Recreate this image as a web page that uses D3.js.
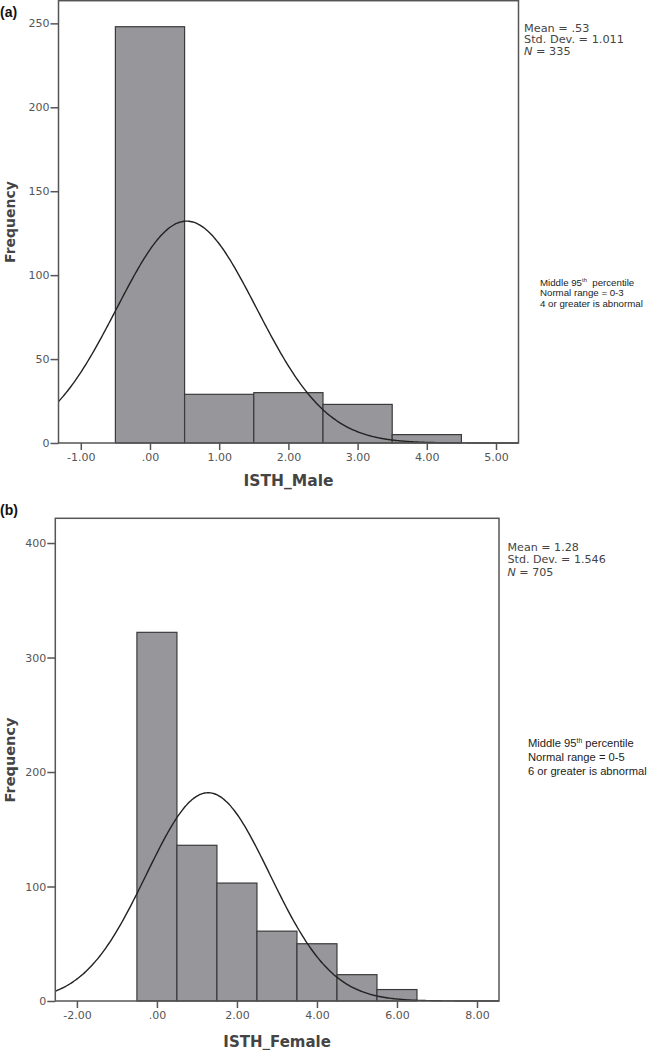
<!DOCTYPE html>
<html>
<head>
<meta charset="utf-8">
<script src="https://cdn.jsdelivr.net/npm/d3@7"></script>
<style>
  html, body { margin: 0; padding: 0; background: #fff; }
  svg { display: block; }
</style>
</head>
<body>
<svg id="chart" width="648" height="1050"></svg>
<script>
// ---------- data ----------
const maleBinCenters = [0, 1, 2, 3, 4];
const maleCounts = [248, 29, 30, 23, 5];
const maleStats = { mean: 0.53, sd: 1.011, n: 335 };
const maleXTicks = [-1, 0, 1, 2, 3, 4, 5];
const maleYTicks = [0, 50, 100, 150, 200, 250];
const maleNote = ["Middle 95", "Normal range = 0-3", "4 or greater is abnormal"];

const femaleBinCenters = [0, 1, 2, 3, 4, 5, 6];
const femaleCounts = [322, 136, 103, 61, 50, 23, 10];
const femaleStats = { mean: 1.28, sd: 1.546, n: 705 };
const femaleXTicks = [-2, 0, 2, 4, 6, 8];
const femaleYTicks = [0, 100, 200, 300, 400];
const femaleNote = ["Middle 95", "Normal range = 0-5", "6 or greater is abnormal"];

// ---------- drawing ----------
const svg = d3.select("#chart");
const fmtX = d => d === 0 ? ".00" : d.toFixed(2);

function panel(cfg) {
  const g = svg.append("g");
  const x = d3.scaleLinear().domain(cfg.xDomain).range([cfg.left, cfg.right]);
  const y = d3.scaleLinear().domain(cfg.yDomain).range([cfg.bottom, cfg.top]);

  // bars
  g.selectAll("rect.bar").data(cfg.centers.map((c, i) => ({ c, v: cfg.counts[i] })))
    .enter().append("rect")
    .attr("class", "bar")
    .attr("x", d => x(d.c - 0.5))
    .attr("width", d => x(d.c + 0.5) - x(d.c - 0.5))
    .attr("y", d => y(d.v))
    .attr("height", d => y(0) - y(d.v))
    .attr("fill", "#97979b")
    .attr("stroke", "#3a3a3a")
    .attr("stroke-width", 1.2);

  // normal curve
  const s = cfg.stats;
  const peak = s.n / (s.sd * Math.sqrt(2 * Math.PI));
  const xs = d3.range(cfg.xDomain[0], cfg.xDomain[1] + 1e-9, (cfg.xDomain[1] - cfg.xDomain[0]) / 300);
  const line = d3.line()
    .x(d => x(d))
    .y(d => y(peak * Math.exp(-0.5 * Math.pow((d - s.mean) / s.sd, 2))))
    .curve(d3.curveBasis);
  g.append("path").datum(xs)
    .attr("d", line)
    .attr("fill", "none")
    .attr("stroke", "#222")
    .attr("stroke-width", 1.4);

  // frame
  g.append("rect")
    .attr("x", cfg.left).attr("y", cfg.top)
    .attr("width", cfg.right - cfg.left).attr("height", cfg.bottom - cfg.top)
    .attr("fill", "none").attr("stroke", "#555").attr("stroke-width", 1.5);

  // axes
  const ax = g.append("g").attr("transform", `translate(0,${cfg.bottom})`)
    .call(d3.axisBottom(x).tickValues(cfg.xTicks).tickFormat(fmtX).tickSize(7).tickPadding(3));
  const ay = g.append("g").attr("transform", `translate(${cfg.left},0)`)
    .call(d3.axisLeft(y).tickValues(cfg.yTicks).tickFormat(d3.format("d")).tickSize(8).tickPadding(1));
  [ax, ay].forEach(a => {
    a.select(".domain").remove();
    a.selectAll(".tick line").attr("stroke", "#555").attr("stroke-width", 1.5);
    a.selectAll(".tick text").attr("fill", "#555")
      .style("font-family", "'DejaVu Sans', sans-serif").style("font-size", "11px");
  });

  // axis titles
  g.append("text")
    .attr("transform", `translate(${cfg.yTitleX},${cfg.yTitleY}) rotate(-90)`)
    .attr("text-anchor", "middle")
    .style("font-family", "'DejaVu Sans', sans-serif").style("font-weight", "bold")
    .style("font-size", cfg.yTitleSize + "px").attr("fill", "#444")
    .text("Frequency");
  g.append("text")
    .attr("x", (cfg.left + cfg.right) / 2).attr("y", cfg.xTitleY)
    .attr("text-anchor", "middle")
    .style("font-family", "'DejaVu Sans', sans-serif").style("font-weight", "bold")
    .style("font-size", cfg.xTitleSize + "px").attr("fill", "#444")
    .text(cfg.xTitle);

  // panel letter
  g.append("text").attr("x", 0).attr("y", cfg.letterY)
    .style("font-family", "'Liberation Sans', Arial, sans-serif").style("font-weight", "bold")
    .style("font-size", "14px").attr("fill", "#111")
    .text(cfg.letter);

  // stats text
  const st = g.append("text")
    .style("font-family", "'DejaVu Sans', sans-serif").style("font-size", cfg.statSize + "px")
    .attr("fill", "#444");
  const meanStr = s.mean < 1 ? String(s.mean.toFixed(2)).replace(/^0/, "") : s.mean.toFixed(2);
  st.append("tspan").attr("x", cfg.statX).attr("y", cfg.statY).text("Mean = " + meanStr);
  st.append("tspan").attr("x", cfg.statX).attr("y", cfg.statY + cfg.statGap).text("Std. Dev. = " + s.sd.toFixed(3));
  const nl = st.append("tspan").attr("x", cfg.statX).attr("y", cfg.statY + 2 * cfg.statGap);
  nl.append("tspan").style("font-style", "italic").text("N");
  nl.append("tspan").text(" = " + s.n);

  // annotation
  const an = g.append("text")
    .style("font-family", "'Liberation Sans', Arial, sans-serif").style("font-size", cfg.noteSize + "px")
    .attr("fill", "#222");
  const l1 = an.append("tspan").attr("x", cfg.noteX).attr("y", cfg.noteY);
  l1.append("tspan").text(cfg.note[0]);
  l1.append("tspan").attr("dy", -cfg.noteSize * 0.35).style("font-size", (cfg.noteSize * 0.6) + "px").text("th");
  l1.append("tspan").attr("dy", cfg.noteSize * 0.35).text(cfg.noteSpace + "percentile");
  an.append("tspan").attr("x", cfg.noteX).attr("y", cfg.noteY + cfg.noteGap).text(cfg.note[1]);
  an.append("tspan").attr("x", cfg.noteX).attr("y", cfg.noteY + 2 * cfg.noteGap).text(cfg.note[2]);
}

panel({
  centers: maleBinCenters, counts: maleCounts, stats: maleStats,
  xTicks: maleXTicks, yTicks: maleYTicks,
  xDomain: [-1.322, 5.325], yDomain: [0, 263.5],
  left: 58.5, right: 518.5, top: 0.7, bottom: 443,
  yTitleX: 15, yTitleY: 222, yTitleSize: 14,
  xTitle: "ISTH_Male", xTitleY: 485.5, xTitleSize: 15.5,
  letter: "(a)", letterY: 16.5,
  statX: 524, statY: 31.5, statGap: 11.5, statSize: 11.3,
  note: maleNote, noteX: 540, noteY: 285.5, noteGap: 10.5, noteSize: 9.7, noteSpace: "\u00a0\u00a0"
});

panel({
  centers: femaleBinCenters, counts: femaleCounts, stats: femaleStats,
  xTicks: femaleXTicks, yTicks: femaleYTicks,
  xDomain: [-2.54, 8.55], yDomain: [0, 421.6],
  left: 55.3, right: 499, top: 518.3, bottom: 1001,
  yTitleX: 15, yTitleY: 760, yTitleSize: 14.5,
  xTitle: "ISTH_Female", xTitleY: 1047, xTitleSize: 15,
  letter: "(b)", letterY: 515, 
  statX: 507.5, statY: 550.7, statGap: 12.5, statSize: 11.1,
  note: femaleNote, noteX: 528, noteY: 746.5, noteGap: 14.2, noteSize: 11.2, noteSpace: " "
});
</script>
</body>
</html>
